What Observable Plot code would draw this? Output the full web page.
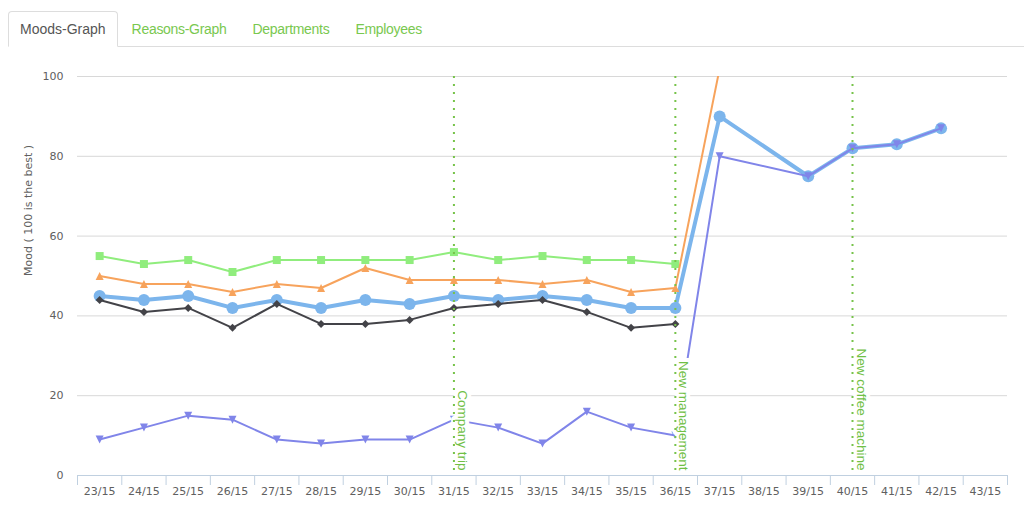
<!DOCTYPE html>
<html>
<head>
<meta charset="utf-8">
<script src="https://cdn.jsdelivr.net/npm/d3@7"></script>
<script src="https://cdn.jsdelivr.net/npm/@observablehq/plot@0.6"></script>
<style>
  html, body { margin: 0; padding: 0; background: #fff; width: 1024px; height: 520px; overflow: hidden; }
  .tabs { position: absolute; top: 11px; left: 8px; right: 0; height: 35px; border-bottom: 1px solid #ddd;
          display: flex; font-family: "Liberation Sans", Arial, sans-serif; font-size: 14px; }
  .tab { box-sizing: border-box; height: 36px; padding: 7px 11px 7px 11px; line-height: 20px; margin-right: 2px;
         border: 1px solid transparent; border-radius: 4px 4px 0 0; color: #79c84f; white-space: nowrap;
         letter-spacing: -0.3px; }
  .tab.active { color: #555; background: #fff; border-color: #ddd; border-bottom-color: #fff; letter-spacing: 0; }
  #chart { position: absolute; top: 50px; left: 0; }
</style>
</head>
<body>
<div class="tabs" id="tabs"></div>
<div id="chart"></div>
<script>
// ---- data ----
const tabs = ["Moods-Graph", "Reasons-Graph", "Departments", "Employees"];
const weeks = ["23/15","24/15","25/15","26/15","27/15","28/15","29/15","30/15","31/15","32/15","33/15",
               "34/15","35/15","36/15","37/15","38/15","39/15","40/15","41/15","42/15","43/15"];
const yTicks = [0, 20, 40, 60, 80, 100];
const yTitle = "Mood ( 100 is the best )";
const seriesBlue   = [45,44,45,42,44,42,44,43,45,44,45,44,42,42,90,null,75,82,83,87,null];
const seriesBlack  = [44,41,42,37,43,38,38,39,42,43,44,41,37,38];
const seriesGreen  = [55,53,54,51,54,54,54,54,56,54,55,54,54,53];
const seriesOrange = [50,48,48,46,48,47,52,49,49,49,48,49,46,47,102];
const seriesPurple = [9,12,15,14,9,8,9,9,14,12,8,16,12,10,80,null,75,82,83,87,null];
const eventWeeks  = ["31/15", "36/15", "40/15"];
const eventLabels = ["Company trip", "New management", "New coffee machine"];

// ---- tabs ----
const tabsEl = document.getElementById("tabs");
tabs.forEach((t, k) => {
  const el = document.createElement("div");
  el.className = "tab" + (k === 0 ? " active" : "");
  el.textContent = t;
  tabsEl.appendChild(el);
});

// ---- custom marker symbols (Highcharts style) ----
const rOf = size => Math.sqrt(size / Math.PI);
const symSquare = { draw(c, s) { const r = rOf(s); c.rect(-r, -r, 2 * r, 2 * r); } };
const symDiamond = { draw(c, s) { const r = rOf(s); c.moveTo(0, -r); c.lineTo(r, 0); c.lineTo(0, r); c.lineTo(-r, 0); c.closePath(); } };
const symTriangle = { draw(c, s) { const r = rOf(s); c.moveTo(0, -r); c.lineTo(r, r); c.lineTo(-r, r); c.closePath(); } };
const symTriangleDown = { draw(c, s) { const r = rOf(s); c.moveTo(-r, -r); c.lineTo(r, -r); c.lineTo(0, r); c.closePath(); } };

const series = [
  { values: seriesBlue,   color: "#7cb5ec", width: 4, symbol: "circle", r: 6 },
  { values: seriesBlack,  color: "#434348", width: 2, symbol: symDiamond, r: 4 },
  { values: seriesGreen,  color: "#90ed7d", width: 2, symbol: symSquare, r: 4 },
  { values: seriesOrange, color: "#f7a35c", width: 2, symbol: symTriangle, r: 4 },
  { values: seriesPurple, color: "#8085e9", width: 2, symbol: symTriangleDown, r: 4 }
];

const idx = weeks.map((w, i) => i);
const bounds = d3.range(weeks.length + 1).map(i => i - 0.5);
const events = eventWeeks.map((w, k) => ({ i: weeks.indexOf(w), label: eventLabels[k] }));

const seriesMarks = series.flatMap(s => {
  const data = s.values.map((v, i) => ({ i, v })).filter(d => d.v != null);
  return [
    Plot.line(data, { x: "i", y: "v", stroke: s.color, strokeWidth: s.width, clip: true }),
    Plot.dot(data, { x: "i", y: "v", fill: s.color, r: s.r, symbol: s.symbol, clip: true })
  ];
});

const chart = Plot.plot({
  width: 1024,
  height: 470,
  marginTop: 26,
  marginBottom: 45,
  marginLeft: 77,
  marginRight: 17,
  style: { fontFamily: "DejaVu Sans, sans-serif", fontSize: "11px", color: "#606060", background: "#fff" },
  x: { type: "linear", domain: [-0.5, weeks.length - 0.5] },
  y: { domain: [0, 100] },
  marks: [
    Plot.ruleY(yTicks.filter(t => t > 0), { stroke: "#d8d8d8", strokeWidth: 1 }),
    Plot.axisY({ ticks: yTicks, tickSize: 0, tickPadding: 14, label: null, tickFormat: d => String(d) }),
    Plot.text([yTitle], { frameAnchor: "left", dx: -49, rotate: -90, fill: "#606060", fontSize: 11 }),
    Plot.ruleY([0], { stroke: "#C0D0E0", strokeWidth: 1 }),
    Plot.axisX({ ticks: idx, tickFormat: i => weeks[i], tickSize: 0, tickPadding: 11.5, label: null }),
    Plot.axisX({ ticks: bounds, tickFormat: () => "", tickSize: 10, stroke: "#C0D0E0", label: null }),
    ...seriesMarks,
    Plot.text(events, {
      x: "i", text: "label", frameAnchor: "bottom", dx: 4, dy: -5, rotate: 90,
      textAnchor: "end", lineAnchor: "bottom", fill: "#70c045",
      stroke: "#fff", strokeWidth: 8, strokeLinejoin: "round",
      fontFamily: "Liberation Sans, Arial, sans-serif", fontSize: 13.5
    }),
    Plot.ruleX(events, { x: "i", stroke: "#77c34a", strokeWidth: 2, strokeDasharray: "2,6" })
  ]
});
document.getElementById("chart").appendChild(chart);
</script>
</body>
</html>
